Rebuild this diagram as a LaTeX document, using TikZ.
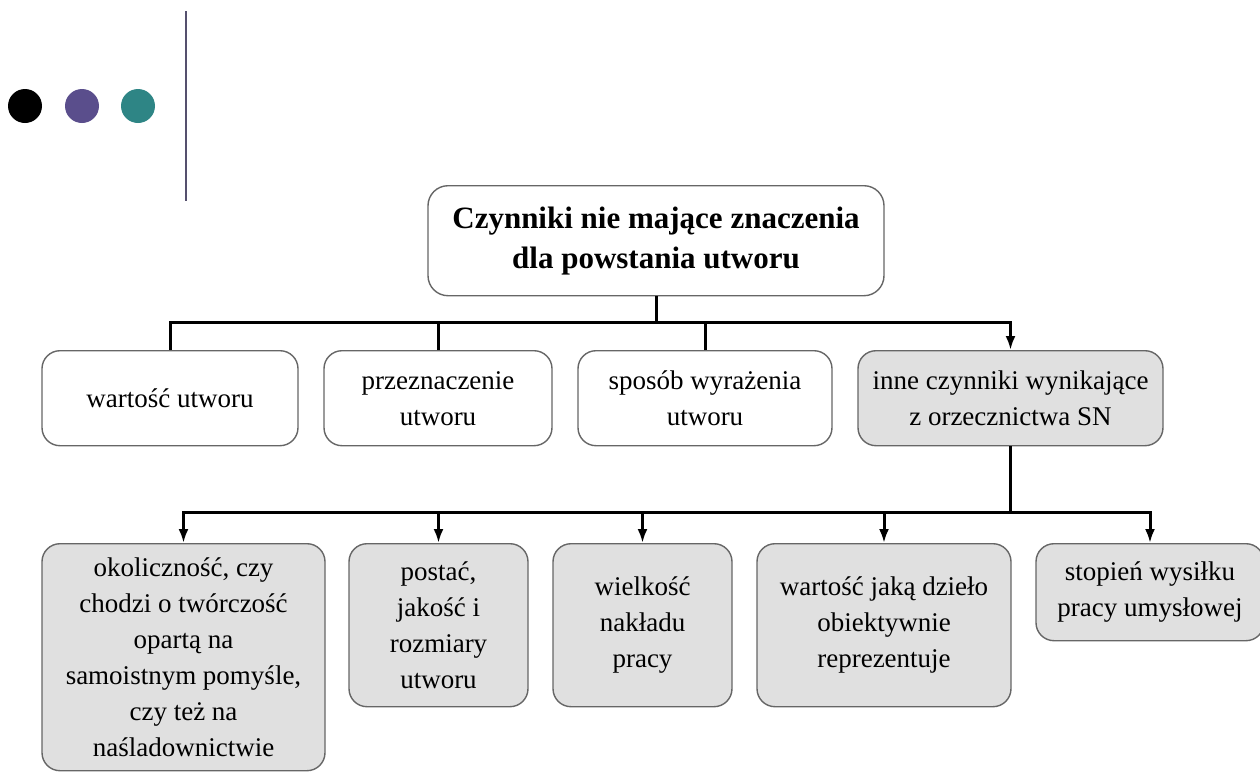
\documentclass[tikz,border=0pt]{standalone}
\usepackage{fontspec}
\setmainfont{Liberation Serif}
\usepackage{tikz}
\usetikzlibrary{arrows.meta, positioning}
\definecolor{dotPurple}{HTML}{5A4E8C}
\definecolor{dotTeal}{HTML}{2E8585}
\definecolor{barGrey}{HTML}{55506E}
\definecolor{boxFill}{HTML}{E0E0E0}
\definecolor{boxEdge}{HTML}{666666}
\def\rowTop{350}
\def\lowTop{543}
\def\busHigh{322}
\def\busLow{512}

\begin{document}
\begin{tikzpicture}[x=0.5pt, y=-0.5pt,
    box/.style={draw=boxEdge, line width=0.7pt, rounded corners=9pt, align=center,
        inner sep=2pt, anchor=north, font=\fontsize{13.5}{18}\selectfont},
    greybox/.style={box, fill=boxFill},
    link/.style={line width=1.5pt},
    arrowlink/.style={link, -{Latex[length=7pt,width=5pt]}}]
    \useasboundingbox (0,0) rectangle (1260,772);

    % Draw dots and bar
    \fill[black] (25,106) circle (8.5pt);
    \fill[dotPurple] (82,106) circle (8.5pt);
    \fill[dotTeal] (138,106) circle (8.5pt);
    \draw[barGrey, line width=1.3pt] (186,11) -- (186,201);

    % Draw title
    \node[box, minimum width=228pt, minimum height=55pt, rounded corners=10pt,
        font=\fontsize{15.5}{20}\selectfont\bfseries] (title) at (656,185)
        {Czynniki nie mające znaczenia\\dla powstania utworu};

    % Draw first row
    \foreach \x/\w/\name/\txt in {170/128/wartosc/{wartość utworu},
                                 438/114/przeznaczenie/{przeznaczenie\\utworu},
                                 705/127/sposob/{sposób wyrażenia\\utworu}} {
        \node[box, minimum width=\w pt, minimum height=47.5pt] (\name) at (\x,\rowTop) {\txt};
    }
    \node[greybox, minimum width=152.5pt, minimum height=47.5pt] (inne) at (1010.5,\rowTop)
        {inne czynniki wynikające\\z orzecznictwa SN};

    % Draw second row
    \foreach \x/\w/\h/\name/\txt in {183.5/141.5/113.5/okolicznosc/{okoliczność, czy\\chodzi o twórczość\\opartą na\\samoistnym pomyśle,\\czy też na\\naśladownictwie},
                                    438.5/89.5/81.5/postac/{postać,\\jakość i\\rozmiary\\utworu},
                                    642.5/89.5/81.5/wielkosc/{wielkość\\nakładu\\pracy},
                                    884/127/81.5/wartoscDziela/{wartość jaką dzieło\\obiektywnie\\reprezentuje},
                                    1150/114/48.5/stopien/{stopień wysiłku\\pracy umysłowej}} {
        \node[greybox, minimum width=\w pt, minimum height=\h pt] (\name) at (\x,\lowTop) {\txt};
    }

    % Draw connectors
    \coordinate (busA) at (656,\busHigh);
    \draw[link] (title.south) -- (busA);
    \draw[link] (busA) -| (wartosc.north);
    \foreach \n in {przeznaczenie, sposob}
        \draw[link] (\n.north) -- (\n.north |- busA);
    \draw[arrowlink] (busA) -| (inne.north);

    \coordinate (busB) at (inne.south |- 0,\busLow);
    \draw[link] (inne.south) -- (busB);
    \draw[arrowlink] (busB) -| (okolicznosc.north);
    \draw[arrowlink] (busB) -| (stopien.north);
    \foreach \n in {postac, wielkosc, wartoscDziela}
        \draw[arrowlink] (\n.north |- busB) -- (\n.north);
\end{tikzpicture}
\end{document}
